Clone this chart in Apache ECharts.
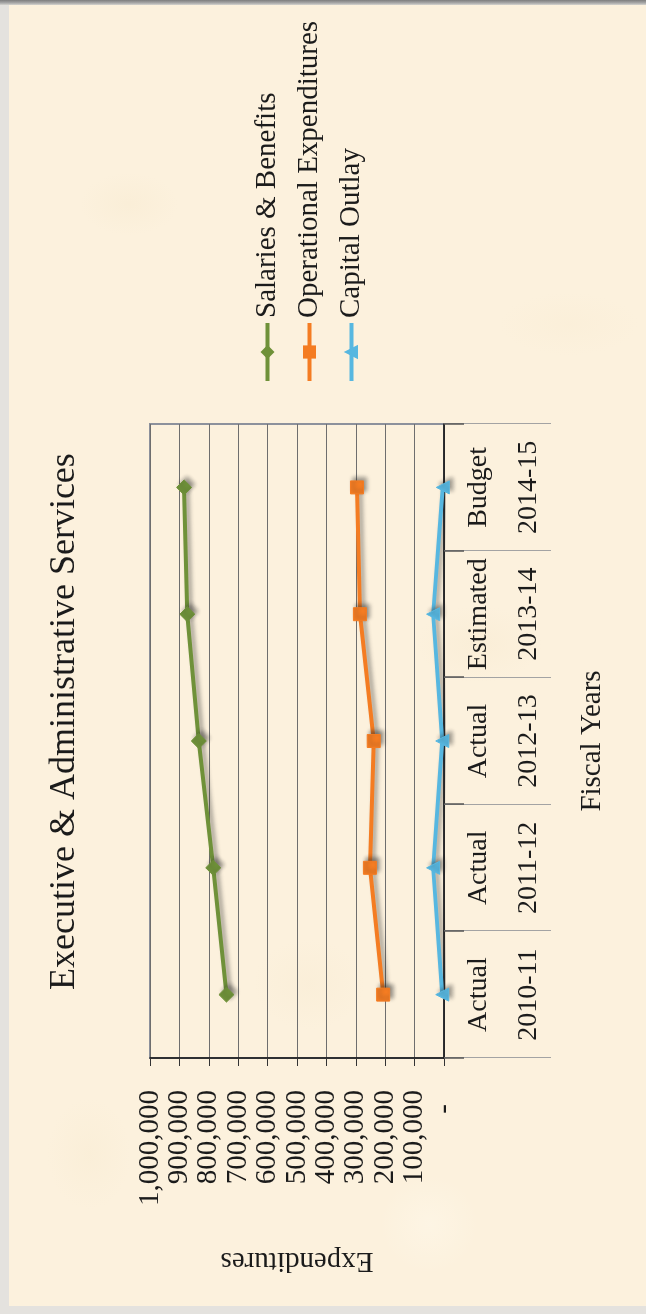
<!DOCTYPE html>
<html>
<head>
<meta charset="utf-8">
<title>Executive &amp; Administrative Services</title>
<script src="https://cdn.jsdelivr.net/npm/echarts@6/dist/echarts.min.js"></script>
<style>
  html, body { margin: 0; padding: 0; width: 646px; height: 1314px; overflow: hidden; background: #e4e2de; }
  #edgeTop { position: absolute; left: 0; top: 0; width: 646px; height: 5px;
    background: linear-gradient(to bottom, #7d7d7d, #a9a9a9 60%, #d6d4cf); z-index: 2; }
  #sheet { position: absolute; left: 9px; top: 4px; width: 637px; height: 1302px;
    background:
      radial-gradient(ellipse 70px 45px at 120px 200px, rgba(240,224,190,0.18), rgba(240,224,190,0) 70%),
      radial-gradient(ellipse 90px 55px at 470px 640px, rgba(238,220,182,0.15), rgba(238,220,182,0) 70%),
      radial-gradient(ellipse 80px 65px at 300px 980px, rgba(240,224,190,0.15), rgba(240,224,190,0) 70%),
      radial-gradient(ellipse 100px 45px at 560px 320px, rgba(244,228,196,0.15), rgba(244,228,196,0) 70%),
      radial-gradient(ellipse 60px 80px at 80px 1150px, rgba(240,224,188,0.15), rgba(240,224,188,0) 70%),
      radial-gradient(ellipse 70px 70px at 420px 1220px, rgba(255,250,238,0.4), rgba(255,250,238,0) 70%),
      #fcf1dd; }
  #chart { position: absolute; left: 0; top: 0; width: 1314px; height: 646px;
    transform-origin: 0 0; transform: translateY(1314px) rotate(-90deg); z-index: 1; }
</style>
</head>
<body>
<div id="edgeTop"></div>
<div id="sheet"></div>
<div id="chart"></div>
<script>
// Fiscal years and their reporting status
const categories = ['2010-11', '2011-12', '2012-13', '2013-14', '2014-15'];
const statuses = ['Actual', 'Actual', 'Actual', 'Estimated', 'Budget'];

// Expenditures by type (dollars)
const salariesBenefits = [740000, 785000, 834000, 873000, 884000];
const operationalExpenditures = [207000, 252000, 239000, 286000, 296000];
const capitalOutlay = [6000, 37000, 6000, 37000, 4000];

// Value axis ticks
const valueMin = 0;
const valueMax = 1000000;
const valueStep = 100000;

const FONT = "'Liberation Serif', 'Times New Roman', 'DejaVu Serif', serif";
const INK = '#1b1b1b';

const shadow = { shadowColor: 'rgba(40,40,40,0.45)', shadowBlur: 4, shadowOffsetX: 3, shadowOffsetY: 3 };

function lineSeries(name, data, color, symbol, size) {
  return {
    name: name,
    type: 'line',
    data: data,
    symbol: symbol,
    symbolSize: size,
    showAllSymbol: true,
    lineStyle: Object.assign({ color: color, width: 4 }, shadow),
    itemStyle: Object.assign({ color: color, borderColor: color, borderWidth: 1 }, shadow),
    emphasis: { disabled: true },
    z: 3
  };
}

const chart = echarts.init(document.getElementById('chart'), null, { renderer: 'canvas' });

chart.setOption({
  animation: false,
  backgroundColor: 'transparent',
  textStyle: { fontFamily: FONT, color: INK },
  title: {
    text: 'Executive & Administrative Services',
    left: 319,
    top: 42,
    textStyle: { fontFamily: FONT, fontSize: 36, fontWeight: 'normal', color: INK }
  },
  legend: {
    orient: 'vertical',
    left: 926,
    top: 248,
    itemWidth: 58,
    itemHeight: 14,
    itemGap: 13,
    lineStyle: { width: 4 },
    textStyle: { fontFamily: FONT, fontSize: 29, color: INK },
    data: ['Salaries & Benefits', 'Operational Expenditures', 'Capital Outlay']
  },
  grid: {
    left: 256,
    right: 424,
    top: 150,
    bottom: 202,
    show: true,
    borderColor: '#8c919c',
    borderWidth: 2,
    backgroundColor: 'transparent'
  },
  xAxis: [
    {
      type: 'category',
      data: categories,
      boundaryGap: true,
      name: 'Fiscal Years',
      nameLocation: 'middle',
      nameGap: 134,
      nameTextStyle: { fontFamily: FONT, fontSize: 29, color: INK },
      axisLine: { show: true, lineStyle: { color: '#111', width: 1.5 } },
      axisTick: { show: true, interval: 0, length: 107, lineStyle: { color: '#a3a3a3', width: 1 } },
      axisLabel: {
        interval: 0,
        margin: 10,
        fontFamily: FONT,
        fontSize: 28,
        color: INK,
        lineHeight: 50,
        formatter: function (value, index) { return statuses[index] + '\n' + value; }
      },
      splitLine: { show: false }
    },
    {
      // short dark tick marks at the category boundaries
      type: 'category',
      data: categories,
      boundaryGap: true,
      position: 'bottom',
      axisLine: { show: false },
      axisTick: { show: true, interval: 0, length: 20, lineStyle: { color: '#555', width: 1.5 } },
      axisLabel: { show: false },
      splitLine: { show: false }
    }
  ],
  yAxis: {
    type: 'value',
    min: valueMin,
    max: valueMax,
    interval: valueStep,
    name: 'Expenditures',
    nameLocation: 'middle',
    nameGap: 188,
    nameRotate: 90,
    nameTextStyle: { fontFamily: FONT, fontSize: 29, color: INK },
    axisLine: { show: true, lineStyle: { color: '#111', width: 1.5 } },
    axisTick: { show: true, length: 8, lineStyle: { color: '#333', width: 1 } },
    axisLabel: {
      margin: 32,
      fontFamily: FONT,
      fontSize: 29,
      color: INK,
      formatter: function (v) {
        return v === 0 ? '{z|-}' : v.toLocaleString('en-US');
      },
      rich: { z: { fontFamily: FONT, fontSize: 29, color: INK, padding: [0, 14, 0, 0] } }
    },
    splitLine: { show: true, lineStyle: { color: '#6e6e6e', width: 1 } }
  },
  series: [
    lineSeries('Salaries & Benefits', salariesBenefits, '#6f9139', 'diamond', 15),
    lineSeries('Operational Expenditures', operationalExpenditures, '#f47c22', 'rect', 13),
    lineSeries('Capital Outlay', capitalOutlay, '#57b7e0', 'triangle', 13)
  ]
});
</script>
</body>
</html>
